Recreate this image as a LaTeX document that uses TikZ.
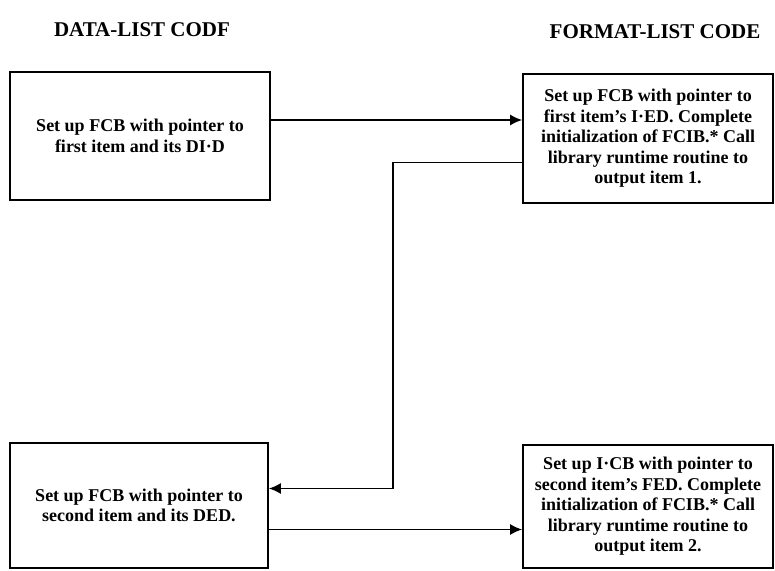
\documentclass[tikz,border=0pt]{standalone}
\usepackage{fontspec}
\setmainfont{Liberation Serif}
\usepackage{tikz}
\usetikzlibrary{arrows.meta,positioning,calc}

\begin{document}
\begin{tikzpicture}[x=1pt, y=1pt,
    box/.style={draw, line width=1.8pt, align=center, font=\bfseries\fontsize{18}{20.5}\selectfont},
    head/.style={font=\bfseries\fontsize{21}{24}\selectfont},
    link/.style={line width=1.4pt, -{Latex[length=12pt, width=11pt]}}]
    \useasboundingbox (0,0) rectangle (775,570);
    \node[head] (hdata) at (142,540) {DATA-LIST CODF};
    \node[head] (hfmt)  at (655,538) {FORMAT-LIST CODE};
    \node[box, minimum width=260pt, minimum height=128pt] (d1) at (140,434)
        {Set up FCB with pointer to\\first item and its DI·D};
    \node[box, minimum width=250pt, minimum height=129pt] (f1) at (648,431.5)
        {Set up FCB with pointer to\\first item’s I·ED. Complete\\initialization of FCIB.* Call\\library runtime routine to\\output item 1.};
    \node[box, minimum width=258pt, minimum height=125pt] (d2) at (139,64.5)
        {Set up FCB with pointer to\\second item and its DED.};
    \node[box, minimum width=250pt, minimum height=123pt] (f2) at (648,63.5)
        {Set up I·CB with pointer to\\second item’s FED. Complete\\initialization of FCIB.* Call\\library runtime routine to\\output item 2.};
    \draw[link] ([yshift=16pt]d1.east) -- ([yshift=16pt]d1.east -| f1.west);
    \draw[link] ([yshift=-24pt]f1.west) -- ++(-129,0) |- ([yshift=17pt]d2.east);
    \draw[link] ([yshift=-24pt]d2.east) -- ([yshift=-24pt]d2.east -| f2.west);
  \end{tikzpicture}
\end{document}
